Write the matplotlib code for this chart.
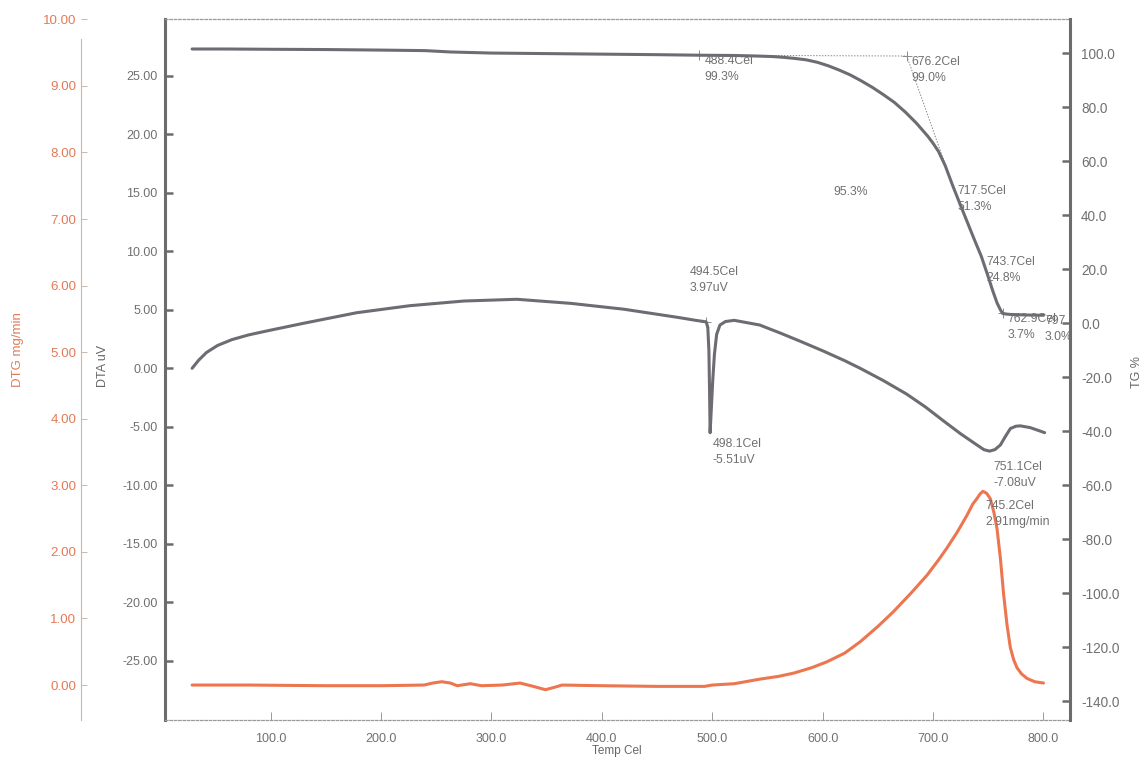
import matplotlib
matplotlib.use("Agg")
import matplotlib.pyplot as plt
from matplotlib import font_manager

plt.rcParams["axes.unicode_minus"] = False

installed = {f.name for f in font_manager.fontManager.ttflist}
if "Liberation Sans Narrow" in installed:
    FONT, SCALE = "Liberation Sans Narrow", 1.2
else:
    FONT, SCALE = "Liberation Sans", 1.0
plt.rcParams["font.family"] = [FONT, "DejaVu Sans"]

# ---- thermogravimetric (TG) curve, % ----
temp_tg = [29, 60, 100, 150, 200, 240, 263, 300, 350, 400, 450, 488.4, 520, 540,
           555, 565, 575, 585, 595, 605, 615, 625, 635, 645, 655, 665, 675, 685,
           695, 700, 705, 711, 717.5, 724, 730, 737, 743.7, 749, 754, 758, 761,
           762.9, 766, 770, 780, 790, 797, 800]
tg_pct = [101.6, 101.6, 101.5, 101.4, 101.2, 101.0, 100.5, 100.1, 99.9, 99.7,
          99.5, 99.3, 99.2, 99.0, 98.8, 98.5, 98.1, 97.6, 96.7, 95.4, 93.8, 92.0,
          89.8, 87.4, 84.7, 81.8, 78.2, 74.1, 69.4, 66.7, 63.6, 58.4, 51.3, 44.6,
          38.5, 31.4, 24.8, 18.4, 12.1, 7.5, 5.0, 3.7, 3.45, 3.3, 3.15, 3.05,
          3.0, 3.0]

# ---- differential thermal analysis (DTA) curve, uV ----
temp_dta = [29, 35, 42, 52, 65, 80, 97, 130, 178, 226, 275, 323, 372, 420, 469,
            485, 494.5, 496, 497, 497.6, 498.1, 499, 500.5, 502, 504, 507, 512,
            520, 543, 562, 580, 600, 620, 634, 655, 676, 693, 709.5, 725, 739.7,
            746, 751.1, 756, 761, 765, 770, 775, 779, 788, 795, 801]
dta_uv = [0.0, 0.7, 1.35, 1.95, 2.45, 2.85, 3.2, 3.85, 4.75, 5.35, 5.75, 5.9,
          5.55, 5.05, 4.35, 4.1, 3.97, 3.5, 1.5, -2.0, -5.51, -3.8, -1.0, 1.2,
          2.9, 3.7, 4.0, 4.1, 3.7, 3.0, 2.3, 1.5, 0.65, 0.0, -1.05, -2.2, -3.3,
          -4.5, -5.6, -6.55, -6.95, -7.08, -6.95, -6.55, -5.9, -5.15, -4.95,
          -4.92, -5.07, -5.3, -5.5]

# ---- derivative thermogravimetric (DTG) curve, mg/min ----
temp_dtg = [29, 80, 150, 200, 239, 247, 255, 263, 269, 281, 291, 310, 326, 338,
            349, 358, 364, 400, 450, 493, 500, 520, 543.5, 560, 574, 590, 604,
            620, 634, 650, 664, 680, 694.5, 705, 712.6, 722, 730.7, 736, 739.7,
            742.5, 745.2, 748.5, 751.8, 755, 757.9, 761, 763.9, 767, 770, 773,
            776, 780, 785, 792, 800]
dtg_rate = [0.0, 0.0, -0.01, -0.01, 0.0, 0.03, 0.05, 0.03, -0.01, 0.02, -0.01,
            0.0, 0.03, -0.02, -0.07, -0.03, 0.0, -0.01, -0.02, -0.02, 0.0, 0.02,
            0.09, 0.13, 0.18, 0.26, 0.35, 0.48, 0.65, 0.88, 1.1, 1.38, 1.65,
            1.88, 2.06, 2.3, 2.55, 2.72, 2.8, 2.87, 2.91, 2.88, 2.8, 2.6, 2.35,
            1.9, 1.36, 0.9, 0.56, 0.38, 0.26, 0.17, 0.1, 0.05, 0.03]

# ---- evaluated points ----
tg_pt_temp = [488.4, 676.2, 717.5, 743.7, 762.9, 797.0]
tg_pt_val = [99.3, 99.0, 51.3, 24.8, 3.7, 3.0]
tg_pt_text = ["488.4Cel\n99.3%", "676.2Cel\n99.0%", "717.5Cel\n51.3%",
              "743.7Cel\n24.8%", "762.9Cel\n3.7%", "797.0Cel\n3.0%"]
step_loss_text = "95.3%"
dta_pt_temp = [494.5, 498.1, 751.1]
dta_pt_val = [3.97, -5.51, -7.08]
dta_pt_text = ["494.5Cel\n3.97uV", "498.1Cel\n-5.51uV", "751.1Cel\n-7.08uV"]
dtg_pt_temp = [745.2]
dtg_pt_val = [2.91]
dtg_pt_text = ["745.2Cel\n2.91mg/min"]

x_ticks = [100, 200, 300, 400, 500, 600, 700, 800]
dta_ticks = [-25, -20, -15, -10, -5, 0, 5, 10, 15, 20, 25]
tg_ticks = [-140, -120, -100, -80, -60, -40, -20, 0, 20, 40, 60, 80, 100]
dtg_ticks = [0, 1, 2, 3, 4, 5, 6, 7, 8, 9, 10]

GRAY = "#6f6b73"
AXGRAY = "#6c6c6c"
TXT = "#707070"
ORANGE = "#ec7650"
ORANGE_TXT = "#e27b58"

W, H = 1144, 760
fig = plt.figure(figsize=(W / 100, H / 100), dpi=100)
fig.patch.set_facecolor("white")
left, right, top, bottom = 164.5, 1070, 19.3, 720
ax = fig.add_axes([left / W, 1 - bottom / H, (right - left) / W, (bottom - top) / H])
ax_tg = ax.twinx()
ax_dtg = ax.twinx()

ax.set_xlim(4, 824)
ax.set_ylim(-30.06, 29.83)
ax_tg.set_ylim(-146.9, 112.6)
ax_dtg.set_ylim(-0.525, 10.0)

# frame
for s in ("top", "bottom"):
    ax.spines[s].set_linestyle((0, (2, 1.5)))
    ax.spines[s].set_linewidth(0.9)
    ax.spines[s].set_color("#9a9a9a")
ax.spines["left"].set_linewidth(2.2)
ax.spines["left"].set_color(AXGRAY)
ax.spines["right"].set_visible(False)
for s in ("top", "bottom", "left"):
    ax_tg.spines[s].set_visible(False)
ax_tg.spines["right"].set_linewidth(2.2)
ax_tg.spines["right"].set_color(AXGRAY)
for s in ("top", "bottom", "right"):
    ax_dtg.spines[s].set_visible(False)
ax_dtg.spines["left"].set_visible(True)
ax_dtg.spines["left"].set_position(("axes", -0.0927))
ax_dtg.spines["left"].set_color("#c9b7ae")
ax_dtg.spines["left"].set_linewidth(0.8)
ax_dtg.spines["left"].set_bounds(-0.525, 9.7)
ax_dtg.yaxis.set_ticks_position("left")
ax_dtg.yaxis.set_label_position("left")

# ticks
ax.set_xticks(x_ticks)
ax.set_xticklabels([f"{v:.1f}" for v in x_ticks])
ax.tick_params(axis="x", direction="in", length=6, width=0.6, color="#8a8a8a",
               labelsize=9.0 * SCALE, labelcolor=TXT, pad=9)
ax.set_yticks(dta_ticks)
ax.set_yticklabels([f"{v:.2f}" for v in dta_ticks])
ax.tick_params(axis="y", direction="in", length=6, width=1.8, color=AXGRAY,
               labelsize=9.0 * SCALE, labelcolor=TXT, pad=5)
ax_tg.set_yticks(tg_ticks)
ax_tg.set_yticklabels([f"{v:.1f}" for v in tg_ticks])
ax_tg.tick_params(axis="y", direction="in", length=6, width=1.8, color=AXGRAY,
                  labelsize=9.8 * SCALE, labelcolor=TXT, pad=8)
ax_dtg.set_yticks(dtg_ticks)
ax_dtg.set_yticklabels([f"{v:.2f}" for v in dtg_ticks])
ax_dtg.tick_params(axis="y", direction="in", length=4, width=0.7, color="#c9b7ae",
                   labelsize=9.6 * SCALE, labelcolor=ORANGE_TXT, pad=3)

# curves
ax_tg.plot(temp_tg, tg_pct, color=GRAY, lw=2.2, solid_capstyle="round",
           solid_joinstyle="round", zorder=3)
ax.plot(temp_dta, dta_uv, color=GRAY, lw=2.2, solid_capstyle="round",
        solid_joinstyle="round", zorder=3)
ax_dtg.plot(temp_dtg, dtg_rate, color=ORANGE, lw=2.2, solid_capstyle="round",
            solid_joinstyle="round", zorder=3)

# TG step evaluation guides
ax_tg.plot([tg_pt_temp[0], tg_pt_temp[1]], [tg_pt_val[0], tg_pt_val[1]],
           ls=(0, (1.5, 1.5)), lw=0.7, color="#8a8a8a")
ax_tg.plot([tg_pt_temp[1], tg_pt_temp[2]], [tg_pt_val[1], tg_pt_val[2]],
           ls=(0, (1.5, 1.5)), lw=0.7, color="#8a8a8a")
for t, v in [(tg_pt_temp[0], tg_pt_val[0]), (tg_pt_temp[1], tg_pt_val[1]),
             (tg_pt_temp[4], tg_pt_val[4])]:
    ax_tg.plot([t], [v], marker="+", ms=7, mew=0.7, color="#8a8a8a")
ax.plot([dta_pt_temp[0]], [dta_pt_val[0]], marker="+", ms=7, mew=0.7, color="#8a8a8a")

NOTE_FS = 8.8 * SCALE
note = dict(fontsize=NOTE_FS, color=TXT, textcoords="offset points",
            linespacing=1.45, annotation_clip=False)
for t, v, s in zip(tg_pt_temp[:-1], tg_pt_val[:-1], tg_pt_text[:-1]):
    ax_tg.annotate(s, xy=(t, v), xytext=(3.5, 0), ha="left", va="top", **note)
# the last evaluated point runs into the frame and is cut at its edge
last = ax_tg.annotate(tg_pt_text[-1], xy=(tg_pt_temp[-1], tg_pt_val[-1]), xytext=(3.5, 0),
                      ha="left", va="top", **note)
last.set_clip_on(True)
last.set_clip_box(ax_tg.bbox)
ax_tg.text(625, 48.6, step_loss_text, fontsize=NOTE_FS, color=TXT, ha="center", va="center")

ax.annotate(dta_pt_text[0], xy=(dta_pt_temp[0], dta_pt_val[0]), xytext=(-12, 20),
            ha="left", va="bottom", **note)
ax.annotate(dta_pt_text[1], xy=(dta_pt_temp[1], dta_pt_val[1]), xytext=(2, -4),
            ha="left", va="top", **note)
ax.annotate(dta_pt_text[2], xy=(dta_pt_temp[2], dta_pt_val[2]), xytext=(3, -7),
            ha="left", va="top", **note)
ax_dtg.annotate(dtg_pt_text[0], xy=(dtg_pt_temp[0], dtg_pt_val[0]), xytext=(1.5, -6),
                ha="left", va="top", **note)

# axis titles
fig.text(18 / W, 1 - 350 / H, "DTG mg/min", rotation=90, ha="center", va="center",
         fontsize=9.5, color=ORANGE_TXT, family="Liberation Sans")
fig.text(103 / W, 1 - 366 / H, "DTA uV", rotation=90, ha="center", va="center",
         fontsize=9, color="#666666", family="Liberation Sans")
fig.text(1137 / W, 1 - 372 / H, "TG %", rotation=90, ha="center", va="center",
         fontsize=9, color="#666666", family="Liberation Sans")
fig.text(617 / W, 1 - 751 / H, "Temp Cel", ha="center", va="center",
         fontsize=8.5, color="#666666", family="Liberation Sans")

fig.savefig("out.png", dpi=100, facecolor="white")
